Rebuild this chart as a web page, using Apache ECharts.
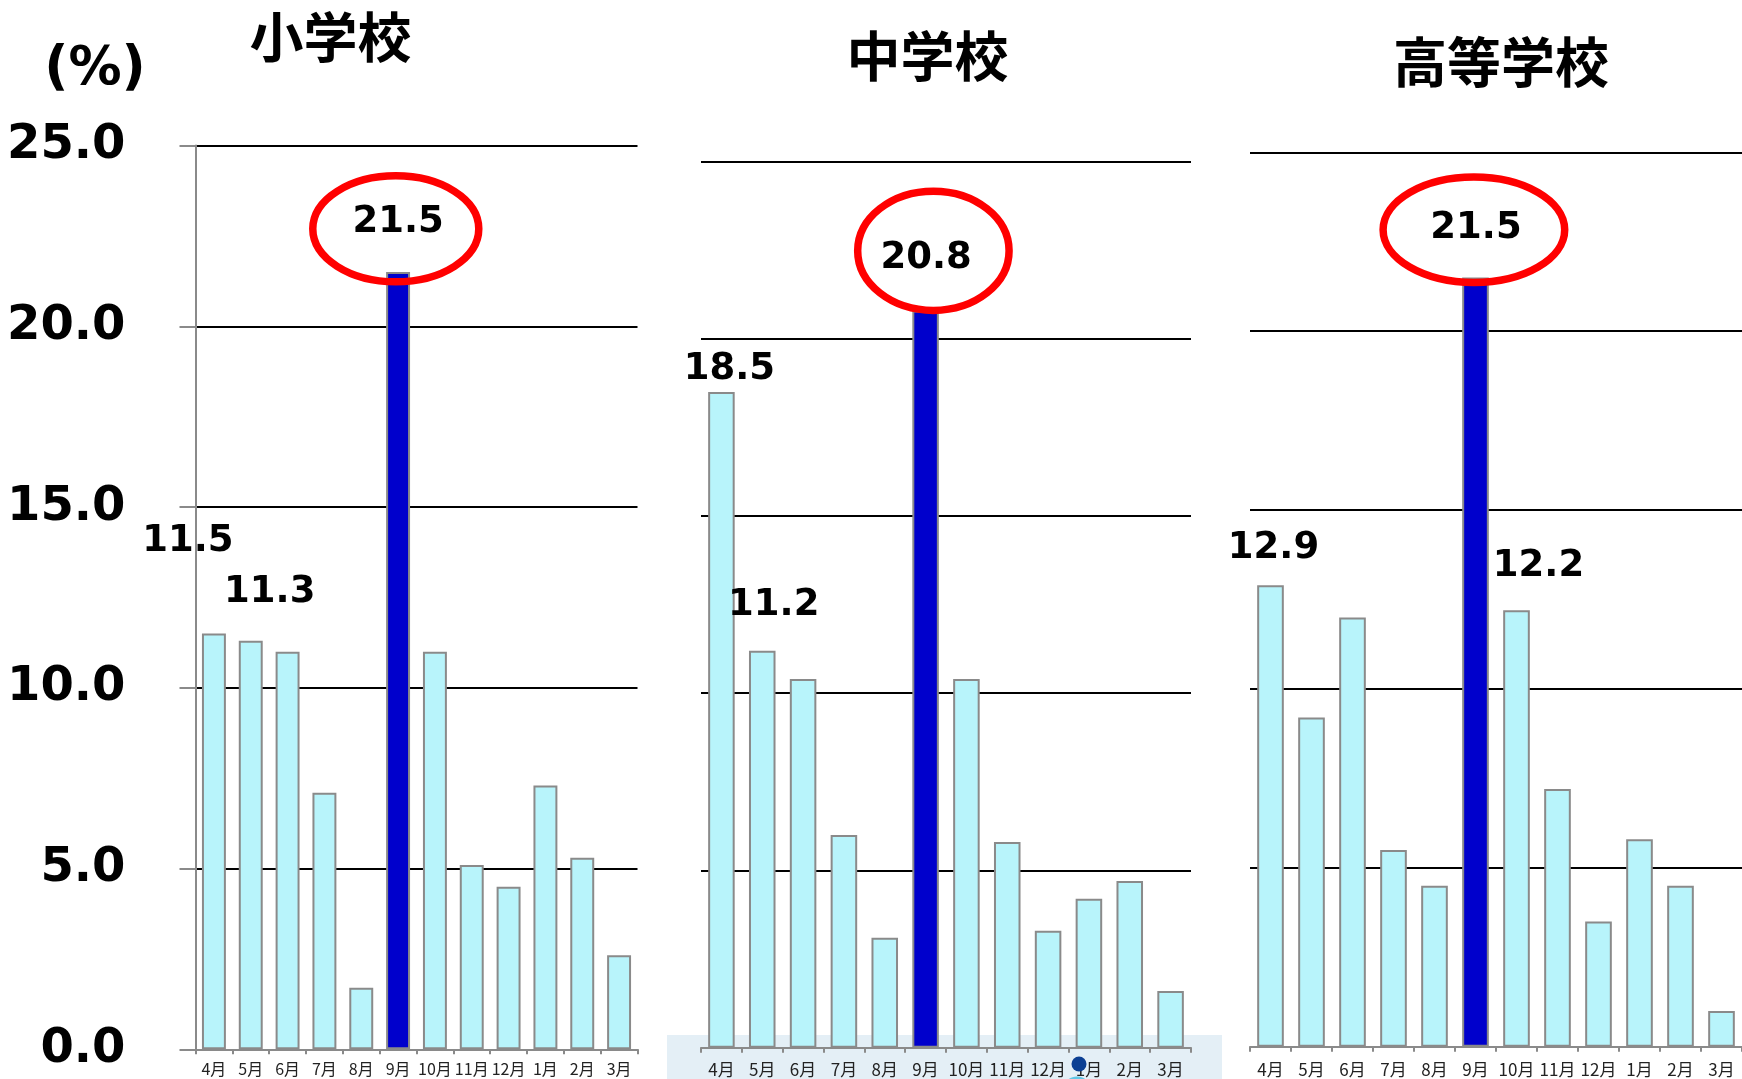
<!DOCTYPE html>
<html>
<head>
<meta charset="utf-8">
<script src="https://cdn.jsdelivr.net/npm/echarts@6/dist/echarts.min.js"></script>
<style>
  html, body { margin: 0; padding: 0; background: #ffffff; }
  #chart { width: 1742px; height: 1079px; }
</style>
</head>
<body>
<div id="chart"></div>
<script>
// ---- data ----
const months = ['4月', '5月', '6月', '7月', '8月', '9月', '10月', '11月', '12月', '1月', '2月', '3月'];
const schoolNames = ['小学校', '中学校', '高等学校'];
const elementaryRates = [11.5, 11.3, 11.0, 7.1, 1.7, 21.5, 11.0, 5.1, 4.5, 7.3, 5.3, 2.6];
const juniorHighRates = [18.5, 11.2, 10.4, 6.0, 3.1, 20.8, 10.4, 5.8, 3.3, 4.2, 4.7, 1.6];
const highSchoolRates = [12.9, 9.2, 12.0, 5.5, 4.5, 21.5, 12.2, 7.2, 3.5, 5.8, 4.5, 1.0];
const yTicks = [0, 5, 10, 15, 20, 25];
const unitLabel = '(%)';
const peakMonth = '9月';

// ---- layout & style ----
const panels = [
  { values: elementaryRates, grid: { left: 195.5, top: 145.6, width: 442, height: 903.7 }, axisFont: 16, axisMargin: 12,
    labelOffsets: { 0: [-26, -92], 1: [19, -48], 5: [0, -50] },
    ring: { dx: -2.3, dy: -43.3, rx: 83, ry: 53 }, title: { x: 330.5, y: 37 } },
  { values: juniorHighRates, grid: { left: 701, top: 161.5, width: 490, height: 886.2 }, axisFont: 17, axisMargin: 13,
    labelOffsets: { 0: [8, -23], 1: [11.5, -45], 5: [0.5, -52] },
    ring: { dx: 7.8, dy: -59.6, rx: 75.7, ry: 59.6 }, title: { x: 927.6, y: 56 } },
  { values: highSchoolRates, grid: { left: 1250, top: 152.3, width: 500.6, height: 894.4 }, axisFont: 17, axisMargin: 14,
    labelOffsets: { 0: [3, -37], 5: [0.5, -49.5], 6: [22, -44] },
    ring: { dx: -1.6, dy: -47.8, rx: 90.8, ry: 52.75 }, title: { x: 1501, y: 62.5 } }
];

const BAR_FILL = '#b8f4fb';
const PEAK_FILL = '#0000cc';
const EDGE = '#8a8a8a';
const NUM_FONT = '"DejaVu Sans", "Noto Sans", sans-serif';
const CJK_FONT = '"Noto Sans CJK JP", "Noto Sans", sans-serif';

const yMin = yTicks[0];
const yMax = yTicks[yTicks.length - 1];
const yStep = yTicks[1] - yTicks[0];
const peakIndex = months.indexOf(peakMonth);

const chart = echarts.init(document.getElementById('chart'), null, { renderer: 'canvas' });

const grids = panels.map(p => Object.assign({ containLabel: false }, p.grid));

const xAxes = panels.map((p, k) => ({
  type: 'category',
  gridIndex: k,
  data: months,
  boundaryGap: true,
  axisLine: { show: true, lineStyle: { color: EDGE, width: 2 } },
  axisTick: { show: true, interval: 0, length: 5, lineStyle: { color: EDGE, width: 2 } },
  axisLabel: { interval: 0, color: '#222', fontFamily: CJK_FONT, fontSize: p.axisFont, margin: p.axisMargin },
  splitLine: { show: false }
}));

const yAxes = panels.map((p, k) => ({
  type: 'value',
  gridIndex: k,
  min: yMin,
  max: yMax,
  interval: yStep,
  axisLine: { show: k === 0, lineStyle: { color: EDGE, width: 2 } },
  axisTick: { show: k === 0, length: 16, lineStyle: { color: EDGE, width: 2 } },
  axisLabel: {
    show: k === 0,
    formatter: v => v.toFixed(1),
    color: '#000',
    fontFamily: NUM_FONT,
    fontWeight: 'bold',
    fontSize: 48,
    margin: 70,
    verticalAlign: 'middle',
    padding: [0, 0, 16, 0]
  },
  splitLine: { show: true, lineStyle: { color: '#000', width: 2 } }
}));

const series = panels.map((p, k) => ({
  type: 'bar',
  xAxisIndex: k,
  yAxisIndex: k,
  barWidth: '65%',
  itemStyle: { color: BAR_FILL, borderColor: EDGE, borderWidth: 2 },
  label: {
    show: false,
    position: ['50%', 0],
    align: 'center',
    verticalAlign: 'middle',
    formatter: d => Number(d.value).toFixed(1),
    color: '#000',
    fontFamily: NUM_FONT,
    fontWeight: 'bold',
    fontSize: 37
  },
  data: p.values.map((v, i) => {
    const item = { value: v };
    if (i === peakIndex) item.itemStyle = { color: PEAK_FILL, borderColor: EDGE, borderWidth: 2 };
    if (p.labelOffsets[i]) item.label = { show: true, offset: p.labelOffsets[i] };
    return item;
  })
}));

chart.setOption({
  animation: false,
  backgroundColor: '#ffffff',
  grid: grids,
  xAxis: xAxes,
  yAxis: yAxes,
  series: series
});

// ---- annotations ----
const graphics = [];

// pale band behind the middle panel's month axis
graphics.push({
  type: 'rect', z: -1, silent: true,
  shape: { x: 667, y: 1035, width: 555, height: 44 },
  style: { fill: '#e4eff6' }
});

// unit caption
graphics.push({
  type: 'text', z: 10, x: 95, y: 70,
  style: { text: unitLabel, font: 'bold 53px "DejaVu Sans", sans-serif', fill: '#000', align: 'center', verticalAlign: 'middle' }
});

panels.forEach((p, k) => {
  // panel heading
  graphics.push({
    type: 'text', z: 10, x: p.title.x, y: p.title.y,
    style: { text: schoolNames[k], font: 'bold 54px ' + CJK_FONT, fill: '#000', align: 'center', verticalAlign: 'middle' }
  });
  // red ring around the peak month value
  const pt = chart.convertToPixel({ seriesIndex: k }, [peakMonth, p.values[peakIndex]]);
  graphics.push({
    type: 'ellipse', z: 100, silent: true,
    shape: { cx: pt[0] + p.ring.dx, cy: pt[1] + p.ring.dy, rx: p.ring.rx, ry: p.ring.ry },
    style: { fill: 'none', stroke: '#ff0000', lineWidth: 7.5 }
  });
});

// small marker pin near the middle panel's axis
graphics.push({
  type: 'ellipse', z: 50, silent: true,
  shape: { cx: 1077, cy: 1084, rx: 11, ry: 7.5 },
  style: { fill: '#5ec6e6' }
});
graphics.push({
  type: 'circle', z: 51, silent: true,
  shape: { cx: 1079, cy: 1064, r: 7.5 },
  style: { fill: '#0b3f93' }
});

chart.setOption({ graphic: graphics });
</script>
</body>
</html>
